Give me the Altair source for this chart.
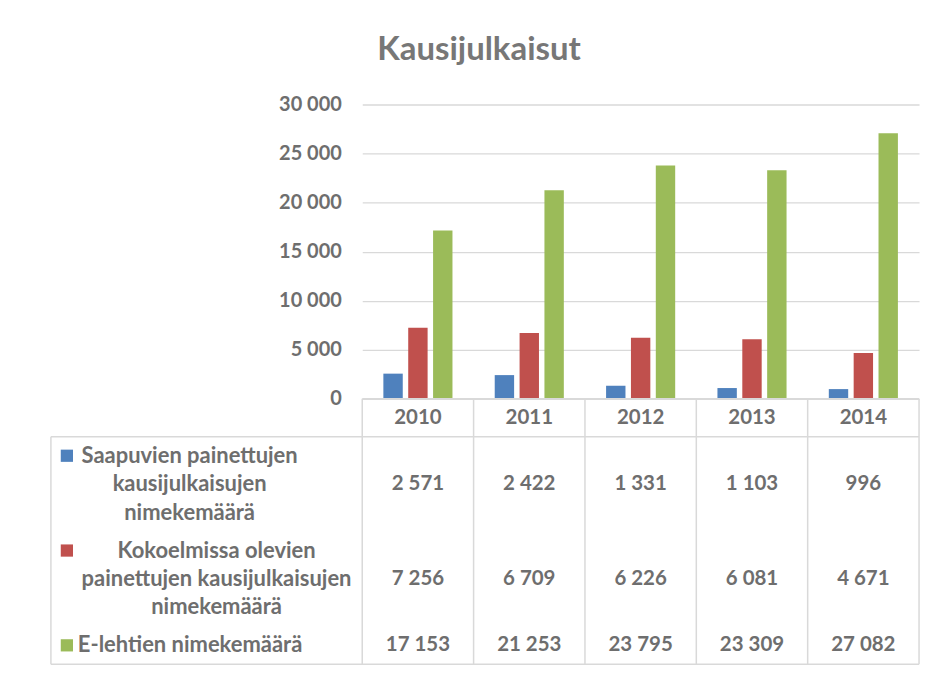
import altair as alt
import pandas as pd

# ---------------- data ----------------
years = ["2010", "2011", "2012", "2013", "2014"]
series_lines = [
    ["Saapuvien painettujen", "kausijulkaisujen", "nimekemäärä"],
    ["Kokoelmissa olevien", "painettujen kausijulkaisujen", "nimekemäärä"],
    ["E-lehtien nimekemäärä"],
]
saapuvat = [2571, 2422, 1331, 1103, 996]
kokoelmat = [7256, 6709, 6226, 6081, 4671]
elehdet = [17153, 21253, 23795, 23309, 27082]
colors = ["#4F81BD", "#C0504D", "#9BBB59"]
y_ticks = [0, 5000, 10000, 15000, 20000, 25000, 30000]

series = [" ".join(l) for l in series_lines]
values = [saapuvat, kokoelmat, elehdet]

TEXT = "#6e6e6e"
GRID = "#d9d9d9"
FONT = "Lato"
W = 558          # plot width (table value columns)
H_BARS = 295
H_TABLE = 266
LABEL_COL = 312  # width of the label column left of the plot

xscale = alt.Scale(domain=years, paddingInner=0, paddingOuter=0)

# ---------------- bars ----------------
bars_df = pd.DataFrame(
    [
        {"year": y, "series": s, "value": v}
        for s, vals in zip(series, values)
        for y, v in zip(years, vals)
    ]
)

bars = (
    alt.Chart(bars_df)
    .mark_bar()
    .encode(
        x=alt.X("year:N", scale=xscale, axis=None),
        xOffset=alt.XOffset(
            "series:N", scale=alt.Scale(domain=series, paddingInner=0.22, paddingOuter=0.85)
        ),
        y=alt.Y(
            "value:Q",
            scale=alt.Scale(domain=[0, 30000], range=[H_BARS, 0], nice=False),
            axis=alt.Axis(
                values=y_ticks,
                labelExpr="replace(format(datum.value, ',d'), ',', ' ')",
                title=None,
                domain=False,
                ticks=False,
                grid=True,
                gridColor=GRID,
                gridWidth=1.3,
                labelFont=FONT,
                labelFontWeight="bold",
                labelFontSize=20,
                labelColor=TEXT,
                labelPadding=21,
            ),
        ),
        color=alt.Color("series:N", scale=alt.Scale(domain=series, range=colors), legend=None),
    )
)

# ---------------- data table ----------------
# table rows measured in "units": each text line = 3 units, plus 1 unit padding
row_lines = [1] + [len(l) for l in series_lines]
row_units = [3 * n + 1 for n in row_lines]
starts = [sum(row_units[:i]) for i in range(len(row_units))]
total_units = sum(row_units)
centers = [s + u / 2 for s, u in zip(starts, row_units)]

header_df = pd.DataFrame({"year": years, "yc": [centers[0]] * len(years)})

cells_df = pd.DataFrame(
    [
        {"year": y, "series": s, "yc": centers[i + 1], "txt": f"{v:,}".replace(",", " ")}
        for i, (s, vals) in enumerate(zip(series, values))
        for y, v in zip(years, vals)
    ]
)

labels_df = pd.DataFrame(
    [
        {
            "series": s,
            "label": "\n".join(series_lines[i]),
            "yfirst": centers[i + 1] - (len(series_lines[i]) - 1) * 3 / 2,
        }
        for i, s in enumerate(series)
    ]
)

tscale = alt.Scale(domain=[0, total_units], range=[H_BARS, H_BARS + H_TABLE], nice=False, zero=False)

text_style = dict(font=FONT, fontWeight="bold", color=TEXT, baseline="middle")

header_text = (
    alt.Chart(header_df)
    .mark_text(align="center", fontSize=20.5, **text_style)
    .encode(
        x=alt.X("year:N", scale=xscale, axis=None),
        y=alt.Y("yc:Q", scale=tscale, axis=None),
        text="year:N",
    )
)

cell_text = (
    alt.Chart(cells_df)
    .mark_text(align="center", fontSize=20.5, **text_style)
    .encode(
        x=alt.X("year:N", scale=xscale, axis=None),
        y=alt.Y("yc:Q", scale=tscale, axis=None),
        text="txt:N",
    )
)

# row label layers (Excel-style legend keys inside the data table)
label_pos = [(-173, "center"), (-146, "center"), (-285, "left")]
label_layers = []
for i, s in enumerate(series):
    xpos, al = label_pos[i]
    label_layers.append(
        alt.Chart(labels_df)
        .transform_filter(alt.datum.series == s)
        .mark_text(align=al, lineBreak="\n", lineHeight=28.5, fontSize=22, **text_style)
        .encode(
            x=alt.value(xpos),
            y=alt.Y("yfirst:Q", scale=tscale, axis=None),
            text="label:N",
        )
    )

squares = (
    alt.Chart(labels_df)
    .mark_square(size=150, opacity=1)
    .encode(
        x=alt.value(-LABEL_COL + 16),
        y=alt.Y("yfirst:Q", scale=tscale, axis=None),
        color=alt.Color("series:N", scale=alt.Scale(domain=series, range=colors), legend=None),
    )
)

# table borders
vlines_df = pd.DataFrame({"year": years, "y0": [0] * len(years), "y1": [total_units] * len(years)})
rule_style = dict(color=GRID, strokeWidth=1.5)
vlines = (
    alt.Chart(vlines_df)
    .mark_rule(**rule_style)
    .encode(
        x=alt.X("year:N", scale=xscale, axis=None, bandPosition=0),
        y=alt.Y("y0:Q", scale=tscale, axis=None),
        y2="y1:Q",
    )
)
right_line = (
    alt.Chart(vlines_df.tail(1))
    .mark_rule(**rule_style)
    .encode(
        x=alt.X("year:N", scale=xscale, axis=None, bandPosition=1),
        y=alt.Y("y0:Q", scale=tscale, axis=None),
        y2="y1:Q",
    )
)
top_df = pd.DataFrame({"y": [0]})
hline_top = (
    alt.Chart(top_df)
    .mark_rule(**rule_style)
    .encode(x=alt.value(0), x2=alt.value(W), y=alt.Y("y:Q", scale=tscale, axis=None))
)
hlines_df = pd.DataFrame({"y": [starts[1], total_units]})
hlines = (
    alt.Chart(hlines_df)
    .mark_rule(**rule_style)
    .encode(x=alt.value(-LABEL_COL), x2=alt.value(W), y=alt.Y("y:Q", scale=tscale, axis=None))
)
left_df = pd.DataFrame({"y0": [starts[1]], "y1": [total_units]})
left_line = (
    alt.Chart(left_df)
    .mark_rule(**rule_style)
    .encode(
        x=alt.value(-LABEL_COL),
        y=alt.Y("y0:Q", scale=tscale, axis=None),
        y2="y1:Q",
    )
)

chart = (
    alt.layer(
        bars, vlines, right_line, hline_top, hlines, left_line,
        header_text, cell_text, squares, *label_layers
    )
    .resolve_scale(y="independent")
    .properties(
        width=W,
        height=H_BARS + H_TABLE,
        title=alt.TitleParams(
            text="Kausijulkaisut",
            font=FONT,
            fontSize=33,
            fontWeight="bold",
            color="#777777",
            anchor="middle",
            frame="bounds",
            offset=28,
            dx=-6,
        ),
        padding={"left": 42, "top": 25, "right": 16, "bottom": 4},
    )
    .configure_view(stroke="transparent")
)

chart.save("out.html", embed_options={"renderer": "svg", "actions": False})
